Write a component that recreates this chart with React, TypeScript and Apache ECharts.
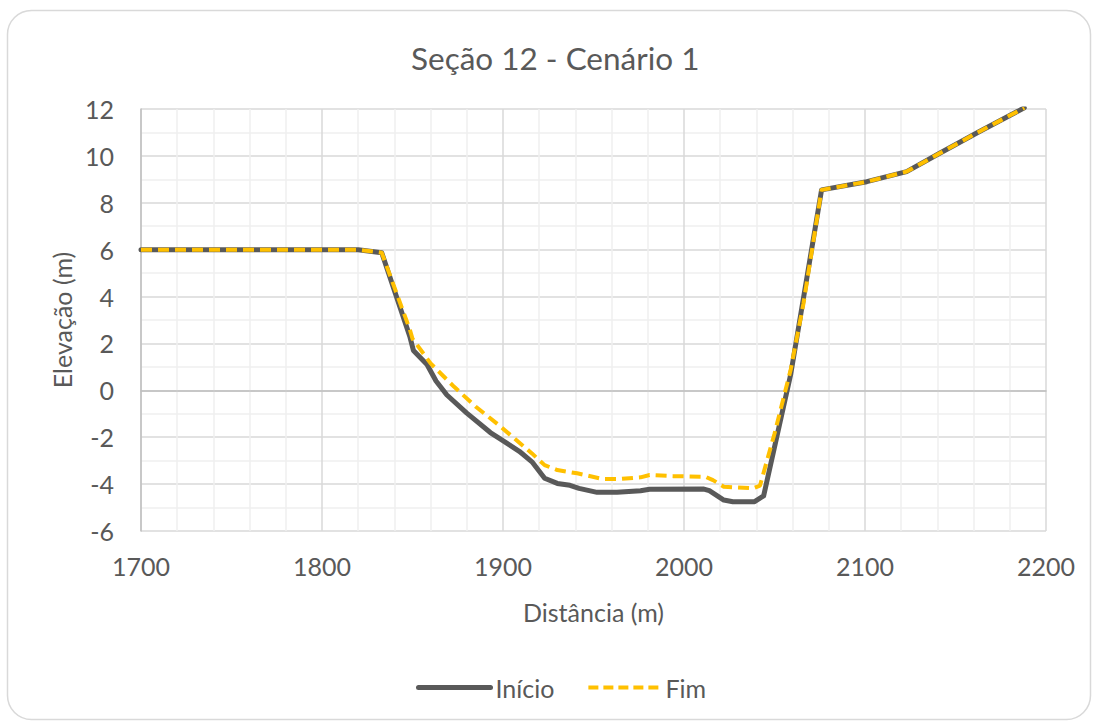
import React, { useEffect, useRef } from "react";
import * as echarts from "echarts";

const inicioX = [1700, 1820, 1833, 1848.5, 1850.5, 1858, 1863, 1869, 1880, 1893, 1898, 1909, 1916, 1923, 1930, 1937, 1942, 1952, 1963, 1976, 1981, 2011, 2014, 2022, 2027, 2039, 2044, 2059, 2076, 2101, 2123, 2141, 2163, 2188];
const inicioY = [6, 6, 5.87, 2.3, 1.7, 1.1, 0.4, -0.2, -0.97, -1.8, -2.05, -2.6, -3.05, -3.75, -3.97, -4.05, -4.18, -4.35, -4.35, -4.28, -4.22, -4.21, -4.28, -4.68, -4.75, -4.75, -4.5, 0.7, 8.55, 8.9, 9.33, 10.1, 11.03, 12.05];

const fimX = [1700, 1820, 1833, 1848.5, 1850, 1860, 1873, 1885, 1898, 1904, 1916, 1923, 1930, 1941, 1955, 1965, 1976, 1981, 1994, 2012, 2016, 2022, 2038, 2042, 2050, 2059, 2066, 2076, 2101, 2123, 2141, 2163, 2188];
const fimY = [6, 6, 5.87, 2.6, 2.2, 1.15, 0.15, -0.7, -1.5, -1.9, -2.69, -3.19, -3.4, -3.54, -3.78, -3.78, -3.71, -3.61, -3.66, -3.69, -3.83, -4.11, -4.18, -4.06, -1.85, 0.9, 3.7, 8.55, 8.9, 9.33, 10.1, 11.03, 12.05];

const title = "Seção 12 - Cenário 1";
const xName = "Distância (m)";
const yName = "Elevação (m)";
const seriesNames = ["Início", "Fim"];

const FONT = "Lato, 'Open Sans', sans-serif";
const TEXT = "#595959";

export default function App() {
  const ref = useRef<HTMLDivElement>(null);
  useEffect(() => {
    if (!ref.current) return;
    const chart = echarts.init(ref.current, undefined, { renderer: "svg" });
    const pair = (xs: number[], ys: number[]) => xs.map((x, i) => [x, ys[i]]);
    chart.setOption({
      animation: false,
      backgroundColor: "#ffffff",
      textStyle: { fontFamily: FONT },
      graphic: [
        {
          type: "rect",
          shape: { x: 7.5, y: 10.5, width: 1083, height: 709, r: 24 },
          style: { fill: "none", stroke: "#d9d9d9", lineWidth: 1.5 },
          silent: true,
        },
      ],
      title: {
        text: title,
        left: 406,
        top: 37,
        textStyle: { fontFamily: FONT, fontSize: 31.5, fontWeight: "normal", color: TEXT },
      },
      legend: {
        bottom: 20,
        left: 411,
        itemWidth: 72,
        itemHeight: 14,
        itemGap: 32,
        itemStyle: { opacity: 0 },
        textStyle: { fontFamily: FONT, fontSize: 25, color: TEXT },
        data: [
          { name: seriesNames[0], lineStyle: { width: 5 } },
          { name: seriesNames[1], lineStyle: { width: 4, type: [10, 5] } },
        ],
      },
      grid: { left: 141, right: 51, top: 109, bottom: 194, containLabel: false },
      xAxis: {
        type: "value",
        min: 1700,
        max: 2200,
        interval: 100,
        name: xName,
        nameLocation: "middle",
        nameGap: 68,
        nameTextStyle: { fontFamily: FONT, fontSize: 25, color: TEXT },
        axisLine: { show: true, lineStyle: { color: "#bfbfbf", width: 1.5 } },
        axisTick: { show: false },
        axisLabel: { fontFamily: FONT, fontSize: 25, color: TEXT, margin: 22, formatter: (v: number) => String(v) },
        splitLine: { show: true, lineStyle: { color: "#d9d9d9", width: 1.5 } },
        minorTick: { show: false, splitNumber: 5 },
        minorSplitLine: { show: true, lineStyle: { color: "#efefef", width: 1.5 } },
      },
      yAxis: {
        type: "value",
        min: -6,
        max: 12,
        interval: 2,
        name: yName,
        nameLocation: "middle",
        nameGap: 66,
        nameTextStyle: { fontFamily: FONT, fontSize: 25, color: TEXT },
        axisLine: { show: true, lineStyle: { color: "#bfbfbf", width: 1.5 } },
        axisTick: { show: false },
        axisLabel: { fontFamily: FONT, fontSize: 25, color: TEXT, margin: 27 },
        splitLine: { show: true, lineStyle: { color: "#d9d9d9", width: 1.5 } },
        minorTick: { show: false, splitNumber: 2 },
        minorSplitLine: { show: true, lineStyle: { color: "#efefef", width: 1.5 } },
      },
      series: [
        {
          name: seriesNames[0],
          type: "line",
          data: pair(inicioX, inicioY),
          symbol: "none",
          lineStyle: { color: "#595959", width: 5, cap: "round", join: "round" },
          itemStyle: { color: "#595959" },
          z: 2,
        },
        {
          name: seriesNames[1],
          type: "line",
          data: pair(fimX, fimY),
          symbol: "none",
          lineStyle: { color: "#FFC000", width: 4, type: [11, 6], join: "round" },
          itemStyle: { color: "#FFC000" },
          z: 3,
        },
      ],
    });
    return () => chart.dispose();
  }, []);
  return (
    <div
      ref={ref}
      style={{ width: 1097, height: 725, position: "fixed", left: 0, top: 0 }}
    />
  );
}
